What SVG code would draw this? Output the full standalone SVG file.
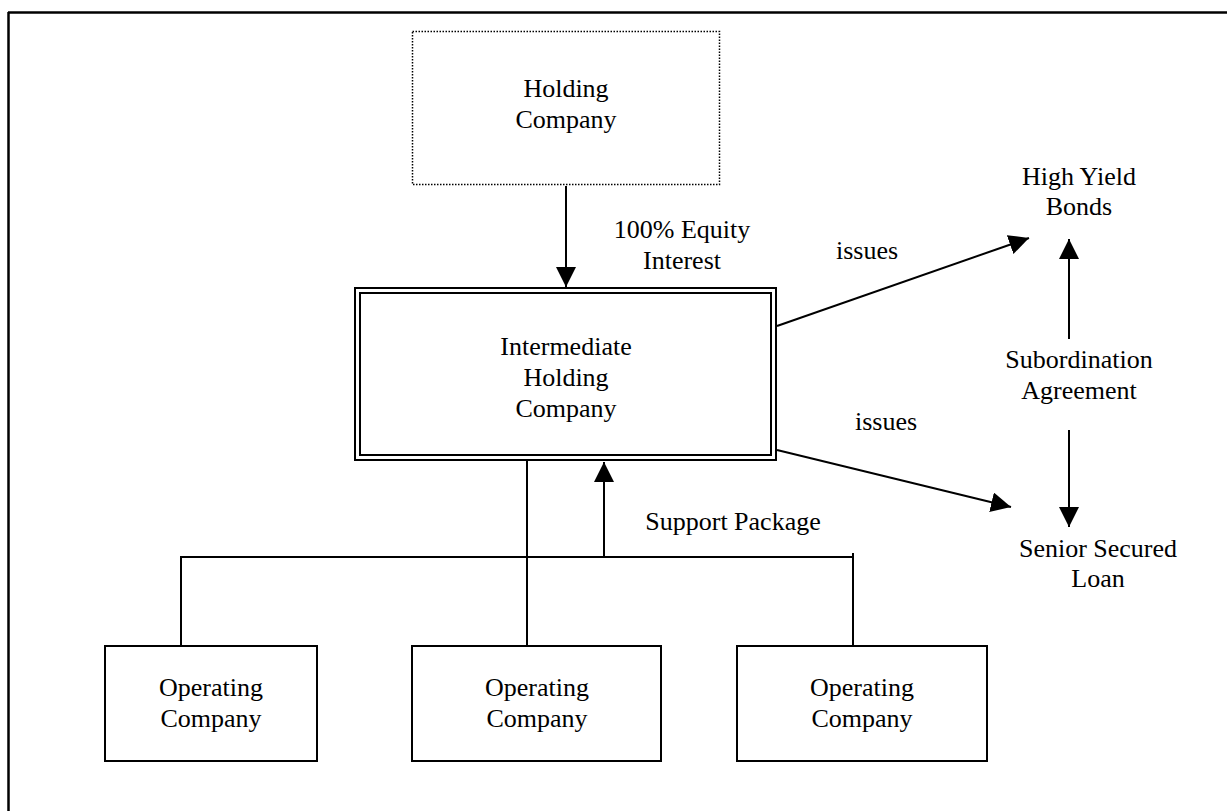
<svg xmlns="http://www.w3.org/2000/svg" width="1227" height="811" viewBox="0 0 1227 811">
<style>
text{font-family:"Liberation Serif","Times New Roman",serif;font-size:26px;fill:#000;text-anchor:middle}
.box{fill:#fff;stroke:#000;stroke-width:2}
.ln{stroke:#000;stroke-width:2;fill:none}
</style>
<defs>
<marker id="ah" markerUnits="userSpaceOnUse" markerWidth="20" markerHeight="20" refX="20" refY="10" orient="auto">
<path d="M0,0 L20,10 L0,20 z" fill="#000"/>
</marker>
</defs>
<rect width="1227" height="811" fill="#fff"/>
<g id="frame">
<line x1="8" y1="12.5" x2="1227" y2="12.5" stroke="#000" stroke-width="2.5"/>
<line x1="8.5" y1="12" x2="8.5" y2="811" stroke="#000" stroke-width="2.5"/>
</g>
<g id="connectors">
<line class="ln" x1="566" y1="186" x2="566" y2="287" marker-end="url(#ah)"/>
<line class="ln" x1="777" y1="326" x2="1029" y2="238" marker-end="url(#ah)"/>
<line class="ln" x1="777" y1="450" x2="1011" y2="507" marker-end="url(#ah)"/>
<line class="ln" x1="1069" y1="339" x2="1069" y2="239" marker-end="url(#ah)"/>
<line class="ln" x1="1069" y1="430" x2="1069" y2="527" marker-end="url(#ah)"/>
<line class="ln" x1="604" y1="557" x2="604" y2="462" marker-end="url(#ah)"/>
<line class="ln" x1="527" y1="461" x2="527" y2="646"/>
<polyline class="ln" points="181,646 181,557 853,557"/>
<line class="ln" x1="853" y1="553" x2="853" y2="646"/>
</g>
<g id="holding">
<rect x="412.5" y="31.5" width="307" height="153" fill="#fff" stroke="#000" stroke-width="1.5" stroke-dasharray="1.5,1.5"/>
<text x="566" y="97">Holding</text>
<text x="566" y="128">Company</text>
</g>
<g id="intermediate">
<rect class="box" x="355" y="288" width="421" height="172"/>
<rect class="box" x="360" y="293" width="411" height="162"/>
<text x="566" y="355">Intermediate</text>
<text x="566" y="386">Holding</text>
<text x="566" y="417">Company</text>
</g>
<g id="labels">
<text x="682" y="238">100% Equity</text>
<text x="682" y="269">Interest</text>
<text x="867" y="259">issues</text>
<text x="886" y="430">issues</text>
<text x="733" y="530">Support Package</text>
</g>
<g id="highyield">
<text x="1079" y="185">High Yield</text>
<text x="1079" y="215">Bonds</text>
</g>
<g id="subordination">
<text x="1079" y="368">Subordination</text>
<text x="1079" y="399">Agreement</text>
</g>
<g id="senior">
<text x="1098" y="557">Senior Secured</text>
<text x="1098" y="587">Loan</text>
</g>
<g id="op1">
<rect class="box" x="105" y="646" width="212" height="115"/>
<text x="211" y="696">Operating</text>
<text x="211" y="727">Company</text>
</g>
<g id="op2">
<rect class="box" x="412" y="646" width="249" height="115"/>
<text x="537" y="696">Operating</text>
<text x="537" y="727">Company</text>
</g>
<g id="op3">
<rect class="box" x="737" y="646" width="250" height="115"/>
<text x="862" y="696">Operating</text>
<text x="862" y="727">Company</text>
</g>
</svg>
